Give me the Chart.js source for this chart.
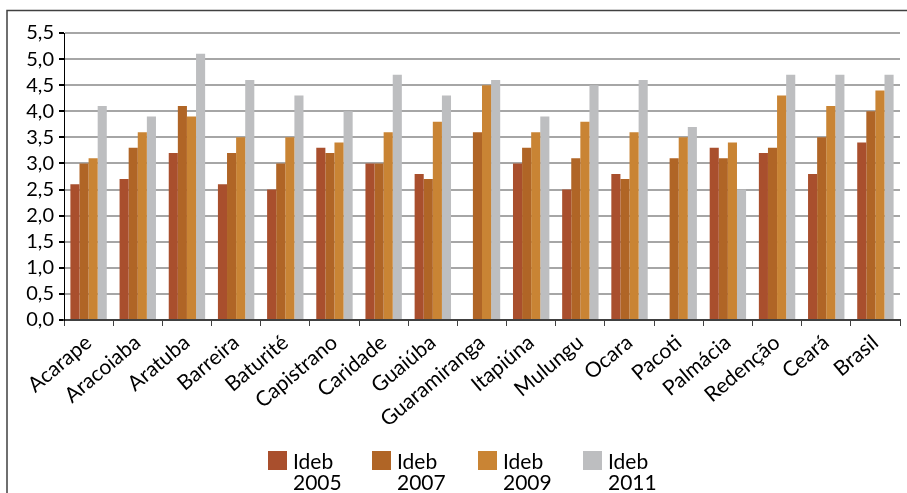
<!DOCTYPE html>
<html>
<head>
<meta charset="utf-8">
<script src="https://cdn.jsdelivr.net/npm/chart.js@4/dist/chart.umd.min.js"></script>
<style>
  html, body { margin: 0; padding: 0; background: #fff; }
  #wrap { position: relative; width: 907px; height: 493px; overflow: hidden; }
  #legend { position: absolute; left: 0; top: 451px; width: 907px; height: 42px; font-family: Lato, 'Noto Sans', sans-serif; font-size: 21px; color: #000; }
  .item { position: absolute; top: 0; }
  .sw { position: absolute; left: 0; top: 0; width: 19px; height: 19px; }
  .lbl { position: absolute; left: 25px; top: -1px; line-height: 21px; white-space: pre; }
</style>
</head>
<body>
<div id="wrap">
  <canvas id="c" width="907" height="493"></canvas>
  <div id="legend"></div>
</div>
<script>
const categories = ['Acarape','Aracoiaba','Aratuba','Barreira','Baturité','Capistrano','Caridade','Guaiúba','Guaramiranga','Itapiúna','Mulungu','Ocara','Pacoti','Palmácia','Redenção','Ceará','Brasil'];
const ideb2005 = [2.6,2.7,3.2,2.6,2.5,3.3,3.0,2.8,null,3.0,2.5,2.8,null,3.3,3.2,2.8,3.4];
const ideb2007 = [3.0,3.3,4.1,3.2,3.0,3.2,3.0,2.7,3.6,3.3,3.1,2.7,3.1,3.1,3.3,3.5,4.0];
const ideb2009 = [3.1,3.6,3.9,3.5,3.5,3.4,3.6,3.8,4.5,3.6,3.8,3.6,3.5,3.4,4.3,4.1,4.4];
const ideb2011 = [4.1,3.9,5.1,4.6,4.3,4.0,4.7,4.3,4.6,3.9,4.5,4.6,3.7,2.5,4.7,4.7,4.7];
const seriesNames = ['Ideb\n2005','Ideb\n2007','Ideb\n2009','Ideb\n2011'];
const seriesColors = ['#A94F2D','#B06526','#C98434','#BDBEC0'];
const yTickLabels = ['0,0','0,5','1,0','1,5','2,0','2,5','3,0','3,5','4,0','4,5','5,0','5,5'];

const seriesData = [ideb2005, ideb2007, ideb2009, ideb2011];

Chart.defaults.font.family = 'Lato, "Noto Sans", sans-serif';
Chart.defaults.color = '#000';

const framePlugin = {
  id: 'frame',
  beforeDraw(chart) {
    const ctx = chart.ctx;
    ctx.save();
    ctx.fillStyle = '#fff';
    ctx.fillRect(0, 0, chart.width, chart.height);
    ctx.strokeStyle = '#404040';
    ctx.lineWidth = 1.5;
    ctx.strokeRect(7, 10.5, 920, 520);
    ctx.restore();
  }
};

new Chart(document.getElementById('c'), {
  type: 'bar',
  data: {
    labels: categories,
    datasets: seriesData.map((d, i) => ({
      label: seriesNames[i],
      data: d,
      backgroundColor: seriesColors[i],
      borderWidth: 0,
      categoryPercentage: 0.74,
      barPercentage: 1.0
    }))
  },
  options: {
    responsive: false,
    animation: false,
    layout: { padding: { left: 0, right: 7, top: 33, bottom: 0 } },
    plugins: { legend: { display: false }, tooltip: { enabled: false }, title: { display: false } },
    scales: {
      x: {
        afterFit(s) { s.height = 173; },
        grid: { drawOnChartArea: false, drawTicks: true, tickLength: 6, tickColor: '#404040', offset: true },
        border: { display: true, color: '#404040', width: 2 },
        ticks: { maxRotation: 40, minRotation: 40, autoSkip: false, font: { size: 21 }, color: '#000', padding: 4 }
      },
      y: {
        min: 0, max: 5.5,
        afterFit(s) { s.width = 64; },
        afterBuildTicks(s) { s.ticks = yTickLabels.map((t, i) => ({ value: i * 0.5 })); },
        grid: { color: '#A6A6A6', lineWidth: 2, drawTicks: true, tickLength: 5, tickColor: '#000' },
        border: { display: true, color: '#000', width: 1 },
        ticks: {
          autoSkip: false,
          font: { size: 20 }, color: '#000', padding: 5,
          callback: (v, i) => yTickLabels[i]
        }
      }
    }
  },
  plugins: [framePlugin]
});

const legend = document.getElementById('legend');
const legendX = [268, 372, 478, 583];
seriesNames.forEach((n, i) => {
  const it = document.createElement('div');
  it.className = 'item';
  it.style.left = legendX[i] + 'px';
  const sw = document.createElement('div');
  sw.className = 'sw';
  sw.style.background = seriesColors[i];
  const lb = document.createElement('div');
  lb.className = 'lbl';
  lb.textContent = n;
  it.appendChild(sw); it.appendChild(lb);
  legend.appendChild(it);
});
</script>
</body>
</html>
